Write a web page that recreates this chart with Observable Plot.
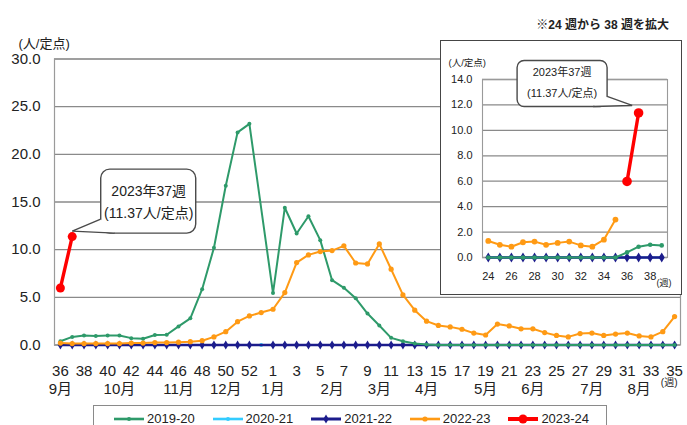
<!DOCTYPE html>
<html>
<head>
<meta charset="utf-8">
<script src="https://cdn.jsdelivr.net/npm/d3@7"></script>
<script src="https://cdn.jsdelivr.net/npm/@observablehq/plot@0.6"></script>
<style>
  body { margin: 0; background: #fff; }
  #wrap { position: relative; width: 687px; height: 425px; overflow: hidden; background: #fff;
          font-family: "Liberation Sans", "Noto Sans CJK JP", sans-serif; color: #222; }
  #main { position: absolute; left: 0; top: 0; }
  #legend { position: absolute; left: 93px; top: 405px; width: 514px; height: 30px;
            border: 1.3px solid #8a8a8a; box-sizing: border-box; display: flex;
            align-items: flex-start; padding-left: 19px; padding-top: 5px; background: #fff; }
  .item { display: flex; align-items: center; width: 100px; font-size: 13px; line-height: 16px; }
  .item svg { margin-right: 2px; }
  #inset { position: absolute; left: 440px; top: 40px; width: 242px; height: 255px; background: #fff; }
  #insetBorder { position: absolute; left: 0; top: 0; width: 242px; height: 255px; border: 1.6px solid #454545;
                 box-sizing: border-box; pointer-events: none; }
  #title { position: absolute; right: 18px; top: 15px; font-size: 12px; font-weight: bold; }
</style>
</head>
<body>
<div id="wrap">
  <div id="main"></div>
  <div id="title">※24 週から 38 週を拡大</div>
  <div id="inset"><div id="insetBorder"></div></div>
  <div id="legend"></div>
</div>
<script>
// ---------- data ----------
const weeks = [36,37,38,39,40,41,42,43,44,45,46,47,48,49,50,51,52,53,
               1,2,3,4,5,6,7,8,9,10,11,12,13,14,15,16,17,18,19,20,21,22,23,24,25,26,27,28,29,30,31,32,33,34,35];
const seasons = ["2019-20", "2020-21", "2021-22", "2022-23", "2023-24"];
const colors  = ["#2e9a6a", "#33ccff", "#1c1c8c", "#ff9a14", "#ff0000"];

const s2019 = [0.4,0.85,1.0,0.95,1.0,1.0,0.72,0.65,1.05,1.07,1.95,2.8,5.85,10.2,16.7,22.3,23.2,null,
               5.45,14.4,11.7,13.5,11.0,6.8,6.0,4.9,3.3,2.05,0.75,0.4,0.15,0.05,
               0,0,0,0,0,0,0,0,0,0,0,0,0,0,0,0,0,0,0,0,0];
const s2020 = [0,0,0,0,0,0,0,0,0,0,0,0,0,0,0,0,0,0,
               0,0,0,0,0,0,0,0,0,0,0,0,0,0,0,0,0,0,0,0,0,0,0,0,0,0,0,0,0,0,0,0,0,0,0];
const s2021 = [0,0,0,0,0,0,0,0,0,0,0,0,0,0,0,0,0,null,
               0,0,0,0,0,0,0,0,0,0,0,0,0,0,0,0,0,0,0,0,0,0,0,0,0,0,0,0,0,0,0,0,0,0,0];
const s2022 = [0.2,0.15,0.15,0.15,0.15,0.15,0.2,0.2,0.25,0.25,0.3,0.35,0.45,0.85,1.4,2.45,3.05,3.4,
               3.75,5.5,8.65,9.45,9.8,9.9,10.4,8.6,8.5,10.6,7.95,5.25,3.65,2.5,2.05,1.9,1.65,1.25,1.05,
               2.2,2.0,1.7,1.7,1.3,1.0,0.85,1.2,1.25,1.0,1.15,1.25,0.95,0.85,1.4,2.98];
const s2023 = [5.98, 11.37];
const seriesValues = [s2019, s2020, s2021, s2022, s2023];

const yTicks = [0,5,10,15,20,25,30];
const monthLabels = ["9月","10月","11月","12月","1月","2月","3月","4月","5月","6月","7月","8月"];
const monthWeeks  = [36, 41, 46, 50, 1, 6, 10, 14, 19, 23, 28, 32];

const insetWeeks = [24,25,26,27,28,29,30,31,32,33,34,35,36,37,38,39];
const insetYTicks = [0,2,4,6,8,10,12,14];
const insetXTicks = [24,26,28,30,32,34,36,38];
const insetTailSeasons = ["2019-20", "2020-21", "2021-22", "2022-23"];   // weeks 24-35 (end of season)
const insetHeadSeasons = ["2019-20", "2020-21", "2021-22", "2023-24"];   // weeks 36-39 (start of season)

const calloutLines = ["2023年37週", "(11.37人/定点)"];
const calloutWeek = 37;

// ---------- styling ----------
const FONT = '"Liberation Sans", "Noto Sans CJK JP", sans-serif';
const lineWidths = [2, 2, 2.4, 2, 3.4];
const dotR       = [2, 2, 2.8, 2.6, 4.5];
const dotSymbol  = ["circle", "circle", "diamond", "circle", "circle"];
const order = [1, 2, 0, 3, 4];

// ---------- rows ----------
const rows = [];
seriesValues.forEach((vals, k) => {
  vals.forEach((v, i) => {
    if (v != null) rows.push({season: seasons[k], k, i, week: weeks[i], value: v});
  });
});

const insetRows = [];
seasons.forEach((s, k) => {
  const vals = seriesValues[k];
  insetWeeks.forEach(w => {
    const useTail = w <= 35 && insetTailSeasons.includes(s);
    const useHead = w >= 36 && insetHeadSeasons.includes(s);
    if (!useTail && !useHead) return;
    const v = vals[weeks.indexOf(w)];
    if (v != null) insetRows.push({season: s, k, week: w, value: v});
  });
});

// ---------- callout mark ----------
function callout(xv, yv, geo) {
  return (index, scales) => {
    const px = scales.x(xv), py = scales.y(yv);
    const g = d3.create("svg:g");
    g.append("rect")
      .attr("x", px + geo.box[0]).attr("y", py + geo.box[1])
      .attr("width", geo.box[2]).attr("height", geo.box[3])
      .attr("rx", geo.r).attr("ry", geo.r)
      .attr("fill", "white").attr("stroke", "#4a4a4a").attr("stroke-width", 1.4);
    const b1 = [px + geo.b1[0], py + geo.b1[1]];
    const b2 = [px + geo.b2[0], py + geo.b2[1]];
    const tp = [px + geo.tip[0], py + geo.tip[1]];
    g.append("path").attr("d", `M${b1}L${tp}L${b2}Z`).attr("fill", "white").attr("stroke", "none");
    g.append("path").attr("d", `M${b1}L${tp}L${b2}`).attr("fill", "none")
      .attr("stroke", "#4a4a4a").attr("stroke-width", 1.4);
    calloutLines.forEach((t, j) => {
      g.append("text")
        .attr("x", px + geo.text[j][0]).attr("y", py + geo.text[j][1])
        .attr("text-anchor", "middle").attr("dominant-baseline", "central")
        .attr("font-size", geo.fs).attr("fill", "#222").attr("font-family", FONT)
        .text(t);
    });
    return g.node();
  };
}

// ---------- main chart ----------
const mainMarks = [
  Plot.gridY(yTicks, {stroke: "#8a8a8a", strokeOpacity: 1, strokeWidth: 1.4}),
  Plot.frame({stroke: "#9a9a9a", strokeWidth: 1.2}),
  Plot.axisY(yTicks, {tickSize: 0, tickPadding: 14, tickFormat: d => d.toFixed(1), fontSize: 15, label: null}),
  Plot.axisX(d3.range(0, weeks.length, 2), {tickSize: 0, tickPadding: 20, tickFormat: i => weeks[i], fontSize: 15, label: null}),
  Plot.text(monthLabels, {x: (d, i) => weeks.indexOf(monthWeeks[i]), frameAnchor: "bottom",
                          lineAnchor: "top", dy: 38, fontSize: 15}),
  Plot.text(["(人/定点)"], {frameAnchor: "top-left", textAnchor: "start", dx: -36, dy: -20.5, fontSize: 13}),
  Plot.text(["(週)"], {frameAnchor: "bottom-right", dx: -3, dy: 41, fontSize: 10})
];
order.forEach(k => {
  const d = rows.filter(r => r.k === k);
  mainMarks.push(Plot.line(d, {x: "i", y: "value", stroke: colors[k], strokeWidth: lineWidths[k]}));
  mainMarks.push(Plot.dot(d, {x: "i", y: "value", fill: colors[k], r: dotR[k], symbol: dotSymbol[k]}));
});
mainMarks.push(callout(weeks.indexOf(calloutWeek), s2023[weeks.indexOf(calloutWeek)], {
  box: [29, -67, 95, 64], r: 9, tip: [0.5, -5], b1: [29, -17], b2: [43, -3],
  text: [[77, -45], [77, -23]], fs: 14
}));

const mainPlot = Plot.plot({
  width: 687, height: 402,
  marginLeft: 54, marginRight: 7, marginTop: 58.5, marginBottom: 57.5,
  x: {type: "linear", domain: [-0.5, weeks.length - 0.5], axis: null, label: null},
  y: {domain: [0, 30], axis: null, label: null},
  style: {fontFamily: FONT, fontSize: "15px", color: "#222", background: "transparent"},
  marks: mainMarks
});
document.getElementById("main").appendChild(mainPlot);

// ---------- inset chart ----------
const insetMarks = [
  Plot.gridY(insetYTicks, {stroke: "#8a8a8a", strokeOpacity: 1, strokeWidth: 1.3}),
  Plot.frame({stroke: "#9a9a9a", strokeWidth: 1.1}),
  Plot.axisY(insetYTicks, {tickSize: 0, tickPadding: 10, tickFormat: d => d.toFixed(1), fontSize: 11, label: null}),
  Plot.axisX(insetXTicks, {tickSize: 0, tickPadding: 15, fontSize: 11, label: null}),
  Plot.text(["(人/定点)"], {frameAnchor: "top-left", textAnchor: "start", dx: -34, dy: -20, fontSize: 9.5}),
  Plot.text(["(週)"], {frameAnchor: "bottom-right", dx: 4, dy: 28, fontSize: 9})
];
order.forEach(k => {
  const d = insetRows.filter(r => r.k === k);
  insetMarks.push(Plot.line(d, {x: "week", y: "value", stroke: colors[k], strokeWidth: lineWidths[k]}));
  insetMarks.push(Plot.dot(d, {x: "week", y: "value", fill: colors[k], r: dotR[k] + 0.3, symbol: dotSymbol[k]}));
});
insetMarks.push(callout(calloutWeek, s2023[weeks.indexOf(calloutWeek)], {
  box: [-121, -52, 90, 46], r: 7, tip: [-6, -7], b1: [-45, -6], b2: [-31, -16],
  text: [[-76, -40], [-76, -19]], fs: 11
}));

const insetPlot = Plot.plot({
  width: 242, height: 255,
  marginLeft: 42, marginRight: 15, marginTop: 39, marginBottom: 38,
  x: {type: "linear", domain: [23.5, 39.5], axis: null, label: null},
  y: {domain: [0, 14], axis: null, label: null},
  style: {fontFamily: FONT, fontSize: "11px", color: "#222", background: "transparent"},
  marks: insetMarks
});
const insetDiv = document.getElementById("inset");
insetDiv.insertBefore(insetPlot, insetDiv.firstChild);

// ---------- legend ----------
const legend = d3.select("#legend");
seasons.forEach((s, k) => {
  const item = legend.append("div").attr("class", "item");
  const svg = item.append("svg").attr("width", 32).attr("height", 12);
  svg.append("line").attr("x1", 1).attr("x2", 31).attr("y1", 6).attr("y2", 6)
     .attr("stroke", colors[k]).attr("stroke-width", lineWidths[k] + 0.6);
  const sym = dotSymbol[k] === "diamond" ? d3.symbolDiamond : d3.symbolCircle;
  svg.append("path").attr("transform", "translate(16,6)")
     .attr("d", d3.symbol(sym, Math.PI * dotR[k] * dotR[k])())
     .attr("fill", colors[k]);
  item.append("span").text(s);
});
</script>
</body>
</html>
